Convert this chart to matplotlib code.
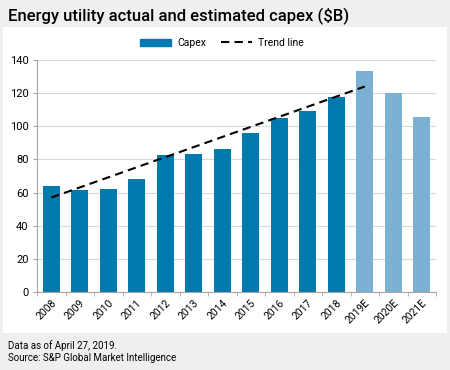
import numpy as np
import matplotlib.pyplot as plt
from matplotlib.patches import Rectangle
from matplotlib.lines import Line2D

years = ['2008', '2009', '2010', '2011', '2012', '2013', '2014', '2015',
         '2016', '2017', '2018', '2019E', '2020E', '2021E']
capex = [64.0, 61.5, 62.0, 68.0, 82.5, 83.5, 86.5, 96.0,
         105.0, 109.5, 117.5, 133.5, 120.0, 105.5]
estimated = [False] * 11 + [True] * 3
trend_years = ['2008', '2019E']
trend_values = [57.0, 124.0]

dark_blue = '#007aae'
light_blue = '#7bb2d3'

plt.rcParams['font.family'] = ['Roboto', 'DejaVu Sans']

fig = plt.figure(figsize=(4.5, 3.7), dpi=100)
fig.patch.set_facecolor('#efefef')

# white panel behind the chart
panel = fig.add_axes([3 / 450, 1 - 333 / 370, 444 / 450, 306 / 370], zorder=-1)
panel.set_facecolor('white')
panel.set_xticks([])
panel.set_yticks([])
for s in panel.spines.values():
    s.set_visible(False)

ax = fig.add_axes([37 / 450, 1 - 292 / 370, 399 / 450, 232 / 370])
ax.set_facecolor('white')

x = np.arange(len(years))
colors = [light_blue if e else dark_blue for e in estimated]
ax.bar(x, capex, width=0.6, color=colors, zorder=2)

tx = [years.index(y) for y in trend_years]
ax.plot(tx, trend_values, color='black', linestyle=(0, (4, 2.5)), linewidth=1.5, zorder=3)

ax.set_xlim(-0.5, len(years) - 0.5)
ax.set_ylim(0, 140)
ax.set_yticks(range(0, 141, 20))
ax.yaxis.grid(True, color='#d9d9d9', linewidth=0.8, zorder=0)
ax.set_axisbelow(True)

ax.set_xticks(x)
ax.set_xticklabels(years, rotation=45, ha='right', va='top', rotation_mode='anchor', fontsize=7.5)
ax.tick_params(axis='x', which='major', length=0, pad=4)
ax.set_xticks(np.arange(-0.5, len(years), 1), minor=True)
ax.tick_params(axis='x', which='minor', length=3, color='#a6a6a6')
ax.tick_params(axis='y', length=3, color='#a6a6a6', labelsize=8, pad=3)

for side in ['top', 'right']:
    ax.spines[side].set_visible(False)
for side in ['left', 'bottom']:
    ax.spines[side].set_color('#a6a6a6')
    ax.spines[side].set_linewidth(0.8)

handles = [Rectangle((0, 0), 1, 1, color=dark_blue),
           Line2D([0], [0], color='black', linestyle=(0, (4, 2.5)), linewidth=1.5)]
fig.legend(handles, ['Capex', 'Trend line'], loc='center', bbox_to_anchor=(222 / 450, 1 - 43 / 370),
           ncol=2, frameon=False, fontsize=7.5, handlelength=2.9, columnspacing=1.5,
           handletextpad=0.6)

fig.text(8 / 450, 1 - 16 / 370, 'Energy utility actual and estimated capex ($B)',
         fontsize=12, fontweight='medium', va='center', ha='left')
fig.text(8 / 450, 1 - 346 / 370, 'Data as of April 27, 2019.', fontsize=7, va='center', ha='left')
fig.text(8 / 450, 1 - 358 / 370, 'Source: S&P Global Market Intelligence', fontsize=7, va='center', ha='left')

fig.savefig('out.png', dpi=100, facecolor=fig.get_facecolor())
